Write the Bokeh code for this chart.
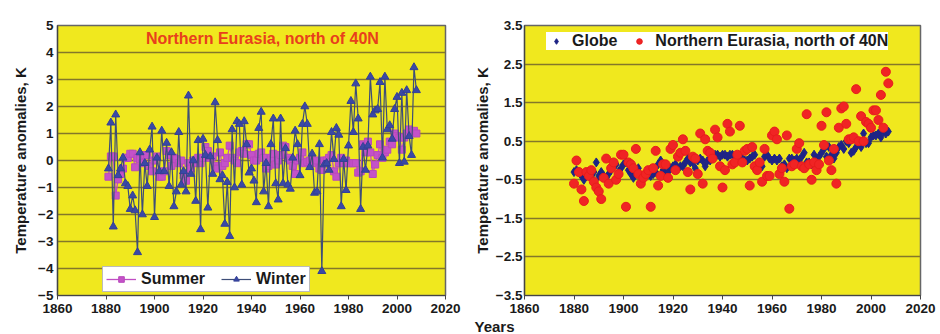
from bokeh.plotting import figure
from bokeh.layouts import row
from bokeh.models import Legend, LegendItem, Label, FixedTicker, Range1d, Title
from bokeh.embed import file_html
from bokeh.resources import INLINE

# ---------------- data ----------------
winter = [
    -0.3, 1.4, -2.45, 1.7, -0.55, -0.3, 0.1, -0.85, -0.95, -1.8,
    -1.3, -1.85, -3.4, 0.3, -2.0, -0.1, -0.95, 0.4, 1.25, -2.1,
    0.1, -0.4, 1.1, -0.4, 0.65, -0.95, 0.3, -1.7, -1.15, 1.05,
    -0.9, -0.4, -1.15, 2.4, -0.5, 0.0, -1.5, 0.75, -2.55, 0.8,
    0.2, -1.75, 0.15, -0.5, 2.15, 0.75, -0.7, -0.55, -2.35, -0.8,
    -2.8, 1.15, -1.0, 1.45, 1.35, -0.9, 1.45, 0.6, -0.45, -0.3,
    -0.75, -1.55, 1.2, 1.8, -1.15, -0.1, -1.7, 0.6, 1.55, -0.85,
    -1.45, 1.55, -0.85, 0.45, -0.9, -1.05, 0.1, 1.1, 0.6, -0.55,
    1.35, 2.0, 1.35, -0.25, 0.25, -1.2, -1.15, 0.6, -4.1, -0.15,
    -0.1, -0.35, 1.05, 0.05, 1.2, 0.95, -1.7, 0.05, -1.1, 0.55,
    2.2, 1.05, 2.85, 1.55, -1.8, 0.5, -0.35, 0.55, 3.1, 1.7,
    1.85, 1.9, 2.9, 0.1, 3.1, 1.15, 1.3, 0.8, 1.9, 2.35,
    -0.1, 2.5, -0.05, 2.6, 0.9, 0.2, 3.45, 2.6,
]
summer = [
    -0.6, 0.15, 0.15, -1.3, -0.7, -0.5, -0.3, 0.1, 0.1, 0.25,
    0.25, -0.25, 0.1, 0.05, -0.1, 0.2, 0.2, -0.2, -0.4, 0.0,
    0.15, -0.6, -0.6, -0.4, 0.35, 0.2, -0.2, 0.1, 0.05, -0.1,
    0.0, -0.55, -0.75, -0.1, -0.3, 0.0, -0.1, 0.1, -0.1, 0.1,
    0.5, 0.35, 0.1, 0.15, -0.2, -0.3, 0.3, -0.2, -0.1, 0.1,
    0.55, 0.1, 0.0, -0.1, 0.3, 0.35, 0.25, 0.6, 0.6, 0.2,
    0.0, 0.0, 0.25, 0.3, 0.1, -0.3, -0.2, 0.1, 0.25, -0.15,
    0.0, 0.2, 0.55, 0.5, 0.1, 0.0, -0.2, -0.5, 0.0, 0.1,
    0.3, -0.1, -0.05, 0.0, 0.0, -0.1, 0.0, -0.3, -0.35, 0.0,
    0.0, 0.1, 0.2, -0.4, -0.6, -0.1, 0.1, -0.1, 0.0, -0.1,
    -0.1, -0.1, -0.1, -0.45, -0.4, 0.6, 0.3, 0.7, 0.3, -0.5,
    -0.15, 0.2, 0.6, 0.1, 0.3, 0.4, 0.7, 0.6, 1.0, 0.9,
    0.85, 0.4, 0.85, 1.0, 1.15, 1.05, 1.1, 1.0,
]
winter_years = list(range(1881, 1881 + len(winter)))
summer_years = list(range(1881, 1881 + len(summer)))

globe = [
    -0.3, -0.25, -0.3, -0.4, -0.5, -0.35, -0.3, -0.4, -0.3, -0.05,
    -0.4, -0.3, -0.4, -0.45, -0.35, -0.25, -0.15, -0.1, -0.3, -0.2,
    -0.1, -0.05, -0.25, -0.35, -0.45, -0.3, -0.2, -0.4, -0.4, -0.35,
    -0.35, -0.4, -0.35, -0.3, -0.1, 0.0, -0.25, -0.35, -0.3, -0.2,
    -0.15, -0.1, -0.2, -0.15, -0.15, -0.05, 0.05, -0.05, -0.05, -0.2,
    0.0, 0.05, 0.0, -0.15, 0.0, 0.0, 0.05, 0.15, 0.15, 0.1,
    0.15, 0.15, 0.1, 0.15, 0.15, 0.1, 0.05, 0.1, 0.05, 0.0,
    0.0, 0.05, 0.1, 0.15, -0.1, -0.05, -0.15, 0.1, 0.15, 0.05,
    0.0, 0.05, 0.0, 0.05, -0.15, -0.1, -0.2, 0.05, 0.05, 0.0,
    0.05, -0.05, 0.1, 0.2, -0.05, -0.05, -0.1, 0.15, 0.05, 0.1,
    0.2, 0.3, 0.1, 0.35, 0.15, 0.05, 0.2, 0.35, 0.4, 0.3,
    0.5, 0.45, 0.2, 0.25, 0.35, 0.45, 0.35, 0.7, 0.45, 0.45,
    0.6, 0.65, 0.65, 0.7, 0.6, 0.75, 0.7, 0.75,
]
eurasia = [
    -0.6, 0.0, -0.3, -0.75, -1.05, -0.3, -0.4, -0.25, -0.55, -0.7,
    -0.8, -1.0, -0.45, 0.05, -0.6, -0.2, -0.05, -0.5, -0.35, 0.15,
    0.15, -1.2, -0.05, -0.1, -0.2, 0.3, -0.35, -0.6, -0.45, -0.35,
    -0.25, -1.2, -0.2, 0.25, -0.65, -0.4, -0.1, -0.1, -0.45, 0.3,
    0.4, -0.25, 0.1, 0.2, 0.55, 0.25, -0.3, -0.75, 0.1, 0.05,
    -0.35, 0.7, -0.6, 0.55, 0.25, 0.2, 0.05, 0.8, 0.6, -0.15,
    -0.7, -0.25, 0.95, 0.75, -0.1, -0.05, 0.15, 0.9, -0.05, 0.25,
    0.3, -0.65, 0.35, -0.15, -0.25, -0.05, -0.55, 0.3, -0.4, -0.4,
    0.65, 0.75, 0.55, -0.35, -0.2, -0.55, 0.65, -1.25, -0.15, -0.1,
    0.3, 0.45, -0.15, -0.2, 1.2, -0.1, -0.5, -0.05, -0.25, -0.1,
    0.9, 0.4, 1.25, 0.0, -0.25, 0.3, -0.6, 0.85, 1.35, 1.4,
    0.95, 0.55, 0.55, 0.6, 1.85, 0.5, 1.15, 0.5, 1.0, 0.95,
    0.85, 1.3, 1.3, 1.05, 1.7, 0.85, 2.3, 2.0,
]
globe_years = list(range(1880, 1880 + len(globe)))
eurasia_years = list(range(1880, 1880 + len(eurasia)))

x_ticks = [1860, 1880, 1900, 1920, 1940, 1960, 1980, 2000, 2020]
left_y_ticks = [-5, -4, -3, -2, -1, 0, 1, 2, 3, 4, 5]
right_y_ticks = [-3.5, -2.5, -1.5, -0.5, 0.5, 1.5, 2.5, 3.5]

title_text = "Northern Eurasia, north of 40N"
y_label = "Temperature anomalies, K"
x_label = "Years"

# ---------------- style ----------------
FONT = "Liberation Sans"
YELLOW = "#F0E81E"
GRID = "#84772A"
TXT = "#1a1a1a"


def style(p, yticks, label_standoff, tick_standoff):
    p.background_fill_color = YELLOW
    p.border_fill_color = "white"
    p.outline_line_color = "#666666"
    p.outline_line_width = 1.5
    p.xgrid.visible = False
    p.ygrid.grid_line_color = GRID
    p.ygrid.grid_line_width = 1.3
    p.xaxis.ticker = FixedTicker(ticks=x_ticks)
    p.yaxis.ticker = FixedTicker(ticks=yticks)
    for ax in (p.xaxis[0], p.yaxis[0]):
        ax.major_label_text_font = FONT
        ax.major_label_text_font_style = "bold"
        ax.major_label_text_font_size = "13.5px"
        ax.major_label_text_color = TXT
        ax.axis_line_color = "#444444"
        ax.axis_line_width = 1.2
        ax.major_tick_line_color = "#444444"
        ax.minor_tick_line_color = None
        ax.major_tick_in = 0
        ax.major_label_standoff = 4
    p.xaxis.major_tick_out = 4
    p.yaxis.major_tick_out = 0
    p.yaxis.major_label_standoff = tick_standoff
    p.yaxis.axis_label = y_label
    p.yaxis.axis_label_text_font = FONT
    p.yaxis.axis_label_text_font_style = "bold"
    p.yaxis.axis_label_text_font_size = "15px"
    p.yaxis.axis_label_text_color = TXT
    p.yaxis.axis_label_standoff = label_standoff


# ---------------- left panel ----------------
p1 = figure(width=470, height=334, x_range=Range1d(1860, 2020), y_range=Range1d(-5, 5),
            output_backend="svg", toolbar_location=None,
            min_border_left=57, min_border_right=25, min_border_top=25, min_border_bottom=39)
style(p1, left_y_ticks, 6, 4)

s_line = p1.line(summer_years, summer, line_color="#C04EC4", line_width=1.3)
s_pts = p1.scatter(summer_years, summer, marker="square", size=7,
                   fill_color="#C452C8", line_color="#B848BC")
w_line = p1.line(winter_years, winter, line_color="#3E4E78", line_width=1.2)
w_pts = p1.scatter(winter_years, winter, marker="triangle", size=8,
                   fill_color="#3A48A6", line_color="#333F96")

p1.add_layout(Label(x=1944.5, y=4.52, text=title_text, text_align="center",
                    text_baseline="middle", text_font=FONT, text_font_style="bold",
                    text_font_size="16px", text_color="#E8401C"))

leg1 = Legend(items=[LegendItem(label="Summer", renderers=[s_line, s_pts]),
                     LegendItem(label="Winter", renderers=[w_line, w_pts])],
              location=(45, 3), orientation="horizontal",
              label_text_font=FONT, label_text_font_style="bold",
              label_text_font_size="16px", label_text_color=TXT,
              glyph_width=30, glyph_height=14, label_height=14, label_standoff=5,
              spacing=16, padding=3, margin=0,
              border_line_color="#777777", border_line_width=1,
              background_fill_color="white", background_fill_alpha=1)
p1.add_layout(leg1)

# ---------------- right panel ----------------
p2 = figure(width=470, height=334, x_range=Range1d(1860, 2020), y_range=Range1d(-3.5, 3.5),
            output_backend="svg", toolbar_location=None,
            min_border_left=52, min_border_right=20, min_border_top=19, min_border_bottom=39)
style(p2, right_y_ticks, 2, 2)

g_pts = p2.scatter(globe_years, globe, marker="diamond", size=9,
                   fill_color="#1E2486", line_color="#1E2486")
e_pts = p2.scatter(eurasia_years, eurasia, marker="circle", size=9,
                   fill_color="#F02424", line_color="#E81C1C")

leg2 = Legend(items=[LegendItem(label="Globe", renderers=[g_pts]),
                     LegendItem(label=title_text, renderers=[e_pts])],
              location=(22, 245), orientation="horizontal",
              label_text_font=FONT, label_text_font_style="bold",
              label_text_font_size="16px", label_text_color=TXT,
              glyph_width=20, glyph_height=14, label_height=14, label_standoff=6,
              spacing=12, padding=4, margin=0,
              border_line_color=None,
              background_fill_color="white", background_fill_alpha=1)
p2.add_layout(leg2)

p2.add_layout(Title(text=x_label, align="left", offset=-50, standoff=0,
                    text_font=FONT, text_font_style="bold", text_font_size="15px",
                    text_color=TXT), "below")

layout = row(p1, p2)
open("out.html", "w").write(file_html(layout, INLINE))
